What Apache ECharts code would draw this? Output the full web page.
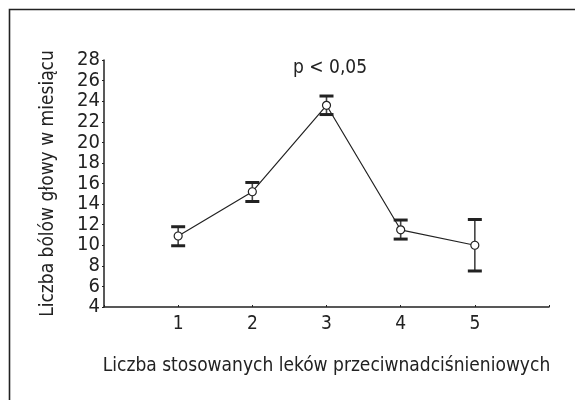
<!DOCTYPE html>
<html>
<head>
<meta charset="utf-8">
<script src="https://cdn.jsdelivr.net/npm/echarts@6/dist/echarts.min.js"></script>
<style>
html,body{margin:0;padding:0;background:#fff;}
#chart{width:575px;height:400px;}
</style>
</head>
<body>
<div id="chart"></div>
<script>
// Data
var categories = [1, 2, 3, 4, 5];
var means = [10.9, 15.2, 23.6, 11.5, 10.0];
var errLow = [9.95, 14.25, 22.7, 10.6, 7.5];
var errHigh = [11.8, 16.1, 24.5, 12.45, 12.5];
var yTicks = [4, 6, 8, 10, 12, 14, 16, 18, 20, 22, 24, 26, 28];

var FONT = "'Liberation Sans Narrow', 'DejaVu Sans Condensed', 'Arial Narrow', sans-serif";

var lineData = categories.map(function (c, i) { return [c, means[i]]; });
var barData = categories.map(function (c, i) { return [c, errLow[i], errHigh[i]]; });

var chart = echarts.init(document.getElementById('chart'));
chart.setOption({
  animation: false,
  backgroundColor: '#fff',
  graphic: [{
    type: 'polyline',
    shape: { points: [[9.5, 460], [9.5, 9.5], [640, 9.5]] },
    style: { fill: 'none', stroke: '#222', lineWidth: 1.6 },
    silent: true
  }, {
    type: 'text',
    left: 293, top: 59,
    style: { text: 'p < 0,05', font: '19px ' + FONT, fill: '#222' }
  }],
  grid: { left: 104, right: 26, top: 60, bottom: 93 },
  xAxis: {
    type: 'value', min: 0, max: 6, interval: 1,
    name: 'Liczba stosowanych leków przeciwnadciśnieniowych',
    nameLocation: 'middle', nameGap: 50,
    nameTextStyle: { fontFamily: FONT, fontSize: 19, color: '#222' },
    axisLine: { lineStyle: { color: '#222', width: 1.5 } },
    axisTick: { inside: true, length: 2, lineStyle: { color: '#222' } },
    axisLabel: {
      fontFamily: FONT, fontSize: 19, color: '#222', margin: 8,
      formatter: function (v) { return (v >= 1 && v <= 5) ? String(v) : ''; }
    },
    splitLine: { show: false }
  },
  yAxis: {
    type: 'value', min: 4, max: 28, interval: 2,
    name: 'Liczba bólów głowy w miesiącu',
    nameLocation: 'middle', nameGap: 46, nameRotate: 90,
    nameTextStyle: { fontFamily: FONT, fontSize: 19, color: '#222' },
    axisLine: { show: true, lineStyle: { color: '#222', width: 1.5 } },
    axisTick: { show: true, length: 2, lineStyle: { color: '#222' } },
    axisLabel: {
      fontFamily: FONT, fontSize: 20, color: '#222', margin: 4,
      formatter: function (v) { return yTicks.indexOf(v) >= 0 ? String(v) : ''; }
    },
    splitLine: { show: false }
  },
  series: [{
    type: 'custom',
    z: 3,
    renderItem: function (params, api) {
      var x = api.value(0);
      var lo = api.coord([x, api.value(1)]);
      var hi = api.coord([x, api.value(2)]);
      var hw = 7;
      return {
        type: 'group',
        children: [{
          type: 'line',
          shape: { x1: lo[0], y1: lo[1], x2: hi[0], y2: hi[1] },
          style: { stroke: '#444', lineWidth: 1.6 }
        }, {
          type: 'line',
          shape: { x1: lo[0] - hw, y1: lo[1], x2: lo[0] + hw, y2: lo[1] },
          style: { stroke: '#222', lineWidth: 3 }
        }, {
          type: 'line',
          shape: { x1: hi[0] - hw, y1: hi[1], x2: hi[0] + hw, y2: hi[1] },
          style: { stroke: '#222', lineWidth: 3 }
        }]
      };
    },
    encode: { x: 0, y: [1, 2] },
    data: barData
  }, {
    type: 'line',
    z: 4,
    data: lineData,
    symbol: 'circle',
    symbolSize: 8,
    lineStyle: { color: '#222', width: 1.2 },
    itemStyle: { color: '#fff', borderColor: '#222', borderWidth: 1.2 }
  }]
});
</script>
</body>
</html>
